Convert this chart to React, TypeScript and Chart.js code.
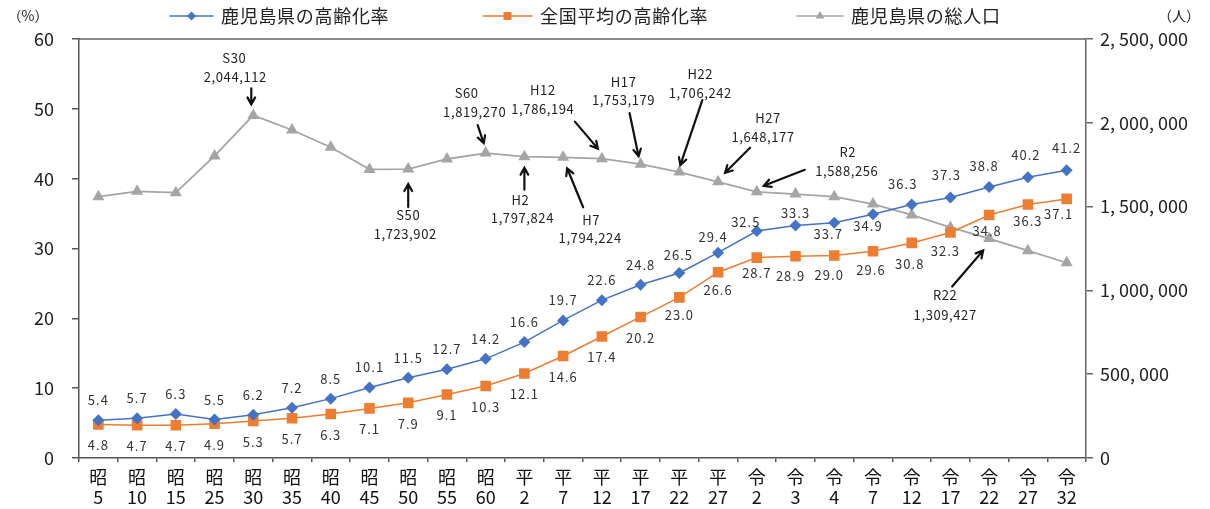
import React, { useEffect, useRef } from "react";
import { Chart, registerables } from "chart.js";

Chart.register(...registerables);

// Census years (era + year)
const eraLabels = [
  "昭", "昭", "昭", "昭", "昭", "昭", "昭", "昭", "昭", "昭", "昭",
  "平", "平", "平", "平", "平", "平",
  "令", "令", "令", "令", "令", "令", "令", "令", "令",
];
const yearLabels = [
  "5", "10", "15", "25", "30", "35", "40", "45", "50", "55", "60",
  "2", "7", "12", "17", "22", "27",
  "2", "3", "4", "7", "12", "17", "22", "27", "32",
];

const seriesNames = ["鹿児島県の高齢化率", "全国平均の高齢化率", "鹿児島県の総人口"];

// Aging rate (%), Kagoshima
const kagoshimaRate = [
  5.4, 5.7, 6.3, 5.5, 6.2, 7.2, 8.5, 10.1, 11.5, 12.7, 14.2,
  16.6, 19.7, 22.6, 24.8, 26.5, 29.4,
  32.5, 33.3, 33.7, 34.9, 36.3, 37.3, 38.8, 40.2, 41.2,
];
// Aging rate (%), national average
const nationalRate = [
  4.8, 4.7, 4.7, 4.9, 5.3, 5.7, 6.3, 7.1, 7.9, 9.1, 10.3,
  12.1, 14.6, 17.4, 20.2, 23.0, 26.6,
  28.7, 28.9, 29.0, 29.6, 30.8, 32.3, 34.8, 36.3, 37.1,
];
// Total population of Kagoshima (persons)
const population = [
  1559000, 1591000, 1583000, 1802000, 2044112, 1957000, 1854000, 1722000, 1723902, 1784000, 1819270,
  1797824, 1794224, 1786194, 1753179, 1706242, 1648177,
  1588256, 1575000, 1559000, 1515000, 1450000, 1376000, 1309427, 1237000, 1165000,
];

// Call-outs on the population line
const calloutIndex = [4, 8, 10, 11, 12, 13, 14, 15, 16, 17, 23];
const calloutNames = ["S30", "S50", "S60", "H2", "H7", "H12", "H17", "H22", "H27", "R2", "R22"];

// Call-out placement relative to the marker: [name dx, name dy, value dx, value dy, arrow x1, y1, x2, y2]
const calloutPlacement: number[][] = [
  [-19, -57, -18, -38, -2, -27, -2, -11],
  [0, 46, -3, 65, 0, 38, 0, 15],
  [-19, -60, -11, -41, -8, -28, -2, -10],
  [-4, 43, -2, 61, 0, 33, 0, 11],
  [28, 63, 27, 81, 20, 50, 4, 11],
  [-59, -69, -59, -50, -27, -37, -4, -10],
  [-17, -82, -17, -64, -11, -51, -2, -8],
  [21, -98, 21, -79, 23, -72, 1, -7],
  [50, -64, 45, -45, 32, -34, 7, -9],
  [91, -40, 90, -21, 48, -22, 7, -6],
  [-44, 57, -44, 77, -37, 48, -6, 12],
];

// Value label shifts (dx, dy) from each marker
const blueShift: Record<number, [number, number]> = {
  15: [-1, -18], 16: [-5, -16], 17: [-11, -9], 18: [0, -12], 19: [-6, 11], 20: [-5, 12],
  21: [-9, -20], 22: [-4, -22], 23: [-5, -21], 24: [-2, -22], 25: [0, -22],
};
const orangeShift: Record<number, [number, number]> = {
  15: [0, 18], 16: [0, 18], 17: [0, 15], 18: [-5, 20], 19: [-5, 20], 20: [-2, 19],
  21: [-2, 21], 22: [-5, 19], 23: [-2, 16], 24: [0, 17], 25: [-8, 15],
};

const BLUE = "#4472C4";
const ORANGE = "#ED7D31";
const GRAY = "#A5A5A5";
const FONT = "'Noto Sans CJK JP', 'Noto Sans', sans-serif";

function drawArrow(ctx: CanvasRenderingContext2D, x1: number, y1: number, x2: number, y2: number) {
  const ang = Math.atan2(y2 - y1, x2 - x1);
  const head = 8;
  ctx.beginPath();
  ctx.moveTo(x1, y1);
  ctx.lineTo(x2, y2);
  ctx.moveTo(x2 - head * Math.cos(ang - 0.5), y2 - head * Math.sin(ang - 0.5));
  ctx.lineTo(x2, y2);
  ctx.lineTo(x2 - head * Math.cos(ang + 0.5), y2 - head * Math.sin(ang + 0.5));
  ctx.stroke();
}

function drawMarker(ctx: CanvasRenderingContext2D, style: string, x: number, y: number, r: number) {
  ctx.beginPath();
  if (style === "rectRot") {
    ctx.moveTo(x, y - r);
    ctx.lineTo(x + r, y);
    ctx.lineTo(x, y + r);
    ctx.lineTo(x - r, y);
  } else if (style === "rect") {
    ctx.rect(x - r, y - r, 2 * r, 2 * r);
  } else {
    ctx.moveTo(x, y - r);
    ctx.lineTo(x + r * 0.87, y + r * 0.5);
    ctx.lineTo(x - r * 0.87, y + r * 0.5);
  }
  ctx.closePath();
  ctx.fill();
}

const overlayPlugin = {
  id: "overlay",
  afterDatasetsDraw(chart: any) {
    const ctx: any = chart.ctx;
    const xs = chart.scales.x;
    const yl = chart.scales.y;
    const yr = chart.scales.y1;
    const area = chart.chartArea;
    ctx.save();

    // top frame line
    ctx.strokeStyle = "#666";
    ctx.lineWidth = 1.5;
    ctx.beginPath();
    ctx.moveTo(area.left, area.top);
    ctx.lineTo(area.right, area.top);
    ctx.stroke();

    // value labels
    ctx.font = `13px ${FONT}`;
    ctx.letterSpacing = "1px";
    ctx.fillStyle = "#333";
    ctx.textAlign = "center";
    ctx.textBaseline = "middle";
    kagoshimaRate.forEach((v, i) => {
      const [dx, dy] = blueShift[i] || [0, -20];
      ctx.fillText(v.toFixed(1), xs.getPixelForValue(i) + dx, yl.getPixelForValue(v) + dy);
    });
    nationalRate.forEach((v, i) => {
      const [dx, dy] = orangeShift[i] || [0, 21];
      ctx.fillText(v.toFixed(1), xs.getPixelForValue(i) + dx, yl.getPixelForValue(v) + dy);
    });

    // population call-outs
    ctx.font = `13px ${FONT}`;
    ctx.letterSpacing = "0.6px";
    ctx.fillStyle = "#222";
    ctx.strokeStyle = "#111";
    ctx.lineWidth = 2.2;
    ctx.lineCap = "round";
    calloutIndex.forEach((idx, k) => {
      const v = population[idx];
      const px = xs.getPixelForValue(idx);
      const py = yr.getPixelForValue(v);
      const p = calloutPlacement[k];
      ctx.fillText(calloutNames[k], px + p[0], py + p[1]);
      ctx.fillText(v.toLocaleString("en-US"), px + p[2], py + p[3]);
      drawArrow(ctx, px + p[4], py + p[5], px + p[6], py + p[7]);
    });
    ctx.letterSpacing = "0px";

    // legend
    const ly = 16;
    const items = [
      { x: 170, w: 43, color: BLUE, style: "rectRot", r: 4.5 },
      { x: 483, w: 49, color: ORANGE, style: "rect", r: 4 },
      { x: 797, w: 46, color: GRAY, style: "triangle", r: 5 },
    ];
    items.forEach((it, k) => {
      ctx.strokeStyle = it.color;
      ctx.lineWidth = 1.5;
      ctx.beginPath();
      ctx.moveTo(it.x, ly);
      ctx.lineTo(it.x + it.w, ly);
      ctx.stroke();
      ctx.fillStyle = it.color;
      drawMarker(ctx, it.style, it.x + it.w / 2, ly, it.r);
      ctx.fillStyle = "#222";
      ctx.font = `18px ${FONT}`;
      ctx.letterSpacing = "0.7px";
      ctx.textAlign = "left";
      ctx.fillText(seriesNames[k], it.x + it.w + 8, ly);
      ctx.letterSpacing = "0px";
    });

    // axis units
    ctx.font = `14px ${FONT}`;
    ctx.textAlign = "center";
    ctx.fillStyle = "#222";
    ctx.fillText("（%）", 28, ly);
    ctx.fillText("（人）", 1179, ly);

    ctx.restore();
  },
};

export default function App() {
  const canvasRef = useRef<HTMLCanvasElement | null>(null);

  useEffect(() => {
    const canvas = canvasRef.current;
    if (!canvas) return;
    const chart = new Chart(canvas, {
      type: "line",
      data: {
        labels: eraLabels.map((e, i) => [e, yearLabels[i]]),
        datasets: [
          {
            label: seriesNames[0],
            data: kagoshimaRate,
            yAxisID: "y",
            borderColor: BLUE,
            backgroundColor: BLUE,
            borderWidth: 1.5,
            pointStyle: "rectRot",
            pointRadius: 6,
            pointBorderWidth: 0,
            tension: 0,
          },
          {
            label: seriesNames[1],
            data: nationalRate,
            yAxisID: "y",
            borderColor: ORANGE,
            backgroundColor: ORANGE,
            borderWidth: 1.5,
            pointStyle: "rect",
            pointRadius: 7.5,
            pointBorderWidth: 0,
            tension: 0,
          },
          {
            label: seriesNames[2],
            data: population,
            yAxisID: "y1",
            borderColor: GRAY,
            backgroundColor: GRAY,
            borderWidth: 1.8,
            pointStyle: "triangle",
            pointRadius: 7,
            pointBorderWidth: 0,
            tension: 0,
          },
        ],
      },
      options: {
        responsive: false,
        animation: false,
        layout: { padding: { top: 39, left: 0, right: 0, bottom: 0 } },
        plugins: {
          legend: { display: false },
          tooltip: { enabled: false },
        },
        scales: {
          x: {
            type: "category",
            offset: true,
            grid: { offset: true, drawOnChartArea: false, tickLength: 4, color: "#555", lineWidth: 1.5 },
            border: { color: "#555", width: 1.5 },
            ticks: {
              color: "#111",
              font: { family: FONT, size: 18, lineHeight: 1.12 },
              padding: 5,
              maxRotation: 0,
              autoSkip: false,
            },
            afterFit: (s: any) => {
              s.height = 51;
            },
          },
          y: {
            position: "left",
            min: 0,
            max: 60,
            grid: { drawOnChartArea: false, tickLength: 7, color: "#555", lineWidth: 1.5 },
            border: { color: "#555", width: 1.5 },
            ticks: {
              stepSize: 10,
              color: "#222",
              font: { family: FONT, size: 18 },
              padding: 18,
            },
            afterFit: (s: any) => {
              s.width = 79;
            },
          },
          y1: {
            position: "right",
            min: 0,
            max: 2500000,
            grid: { drawOnChartArea: false, tickLength: 7, color: "#666", lineWidth: 1.5 },
            border: { color: "#666", width: 1.5 },
            ticks: {
              stepSize: 500000,
              color: "#222",
              font: { family: FONT, size: 18 },
              padding: 7,
              callback: (v: any) => Number(v).toLocaleString("en-US").replace(/,/g, ", "),
            },
            afterFit: (s: any) => {
              s.width = 124;
            },
          },
        },
      },
      plugins: [overlayPlugin],
    });
    return () => chart.destroy();
  }, []);

  return (
    <div style={{ position: "fixed", left: 0, top: 0, width: 1210, height: 509, background: "#fff" }}>
      <canvas ref={canvasRef} width={1210} height={509} style={{ display: "block" }} />
    </div>
  );
}
